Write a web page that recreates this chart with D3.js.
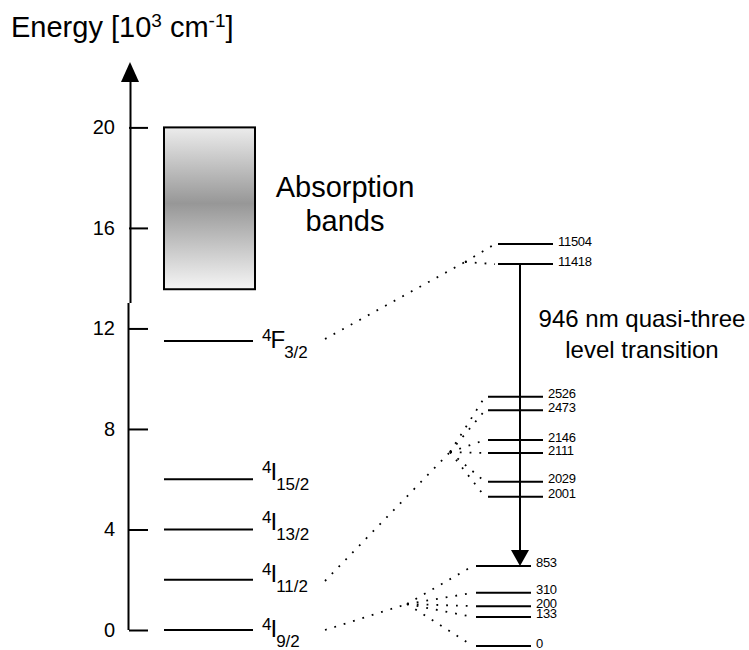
<!DOCTYPE html>
<html lang="en">
<head>
<meta charset="utf-8">
<script src="https://cdn.jsdelivr.net/npm/d3@7"></script>
<style>
body { margin: 0; background: #fff; }
svg { display: block; }
text { font-family: Arial, "Liberation Sans", sans-serif; fill: #000; }
</style>
</head>
<body>
<svg id="chart" width="749" height="650"></svg>
<script>
// energy axis, in 10^3 cm^-1
const axisTicks = [0, 4, 8, 12, 16, 20];

// manifolds on the left
const levelTerms = ["F", "I", "I", "I", "I"];
const levelSubs = ["3/2", "15/2", "13/2", "11/2", "9/2"];
const levelEnergies = [11.5, 6.0, 4.0, 2.0, 0];

// pump band
const bandRange = [13.56, 20];

// Stark sublevels (cm^-1) and the axis height they are drawn at (schematic)
const upperSplit = ["11504", "11418"];
const upperDrawnAt = [15.36, 14.56];
const midSplit = ["2526", "2473", "2146", "2111", "2029", "2001"];
const midDrawnAt = [9.28, 8.74, 7.56, 7.04, 5.90, 5.30];
const groundSplit = ["853", "310", "200", "133", "0"];
const groundDrawnAt = [2.55, 1.48, 0.95, 0.52, -0.64];

const svg = d3.select("#chart");
const y = d3.scaleLinear().domain([0, 20]).range([630, 127.4]);
const axisX = 129;

// gradient for the absorption box
const grad = svg.append("defs").append("linearGradient")
    .attr("id", "band").attr("x1", 0).attr("y1", 0).attr("x2", 0).attr("y2", 1);
grad.append("stop").attr("offset", "0%").attr("stop-color", "#ececec");
grad.append("stop").attr("offset", "47%").attr("stop-color", "#979797");
grad.append("stop").attr("offset", "100%").attr("stop-color", "#f5f5f5");

// title
svg.append("text")
    .attr("x", 11).attr("y", 37)
    .style("font-size", "29px")
    .call(t => {
        t.append("tspan").text("Energy [10");
        t.append("tspan").attr("dy", -10).style("font-size", "19px").text("3");
        t.append("tspan").attr("dy", 10).text(" cm");
        t.append("tspan").attr("dy", -10).style("font-size", "19px").text("-1");
        t.append("tspan").attr("dy", 10).text("]");
    });

// axis line, with the small break near 12
const breakY = 303;
svg.append("line").attr("x1", axisX + 1.5).attr("x2", axisX + 1.5)
    .attr("y1", 80).attr("y2", breakY).attr("stroke", "#000").attr("stroke-width", 2);
svg.append("line").attr("x1", axisX - 0.5).attr("x2", axisX - 0.5)
    .attr("y1", breakY).attr("y2", y(0)).attr("stroke", "#000").attr("stroke-width", 2);
svg.append("path")
    .attr("d", `M${axisX + 1},62 L${axisX - 8},82 L${axisX + 10},82 Z`)
    .attr("fill", "#000");

const axis = svg.append("g")
    .attr("transform", `translate(${axisX},0)`)
    .call(d3.axisLeft(y).tickValues(axisTicks).tickSize(-19).tickPadding(14));
axis.select(".domain").remove();
axis.selectAll(".tick line").attr("stroke", "#000").attr("stroke-width", 2);
axis.selectAll(".tick text")
    .style("font-size", "20px")
    .style("font-family", "Arial, 'Liberation Sans', sans-serif")
    .attr("fill", "#000");

// absorption bands
svg.append("rect")
    .attr("x", 164).attr("width", 91)
    .attr("y", y(bandRange[1])).attr("height", y(bandRange[0]) - y(bandRange[1]))
    .attr("fill", "url(#band)").attr("stroke", "#000").attr("stroke-width", 2);
svg.append("text").attr("x", 345).attr("y", 197).attr("text-anchor", "middle")
    .style("font-size", "29px").text("Absorption");
svg.append("text").attr("x", 345).attr("y", 231).attr("text-anchor", "middle")
    .style("font-size", "29px").text("bands");

// manifolds
const labelDy = [7, 1, 1, 2, 7];
levelEnergies.forEach((e, i) => {
    svg.append("line")
        .attr("x1", 164).attr("x2", 253)
        .attr("y1", y(e)).attr("y2", y(e))
        .attr("stroke", "#000").attr("stroke-width", 2);
    const t = svg.append("text")
        .attr("x", 262).attr("y", y(e) + labelDy[i])
        .style("font-size", "24px");
    t.append("tspan").attr("dy", -7).style("font-size", "17px").text("4");
    t.append("tspan").attr("dy", 7).attr("dx", -1).text(levelTerms[i]);
    t.append("tspan").attr("dy", 10).attr("dx", -1).style("font-size", "17px").text(levelSubs[i]);
});

// Stark groups
const groups = [
    { labels: upperSplit, at: upperDrawnAt, x0: 498, from: [325, 339], hub: [465, 262] },
    { labels: midSplit, at: midDrawnAt, x0: 488, from: [325, 581], hub: [450, 452] },
    { labels: groundSplit, at: groundDrawnAt, x0: 476, from: [325, 630], hub: [407, 604] }
];
const dotted = g => g.attr("stroke", "#000").attr("stroke-width", 1.8)
    .attr("stroke-dasharray", "1.8 8").attr("fill", "none");

groups.forEach(g => {
    svg.append("line")
        .attr("x1", g.from[0]).attr("y1", g.from[1])
        .attr("x2", g.hub[0]).attr("y2", g.hub[1])
        .call(dotted);
    g.at.forEach((v, j) => {
        svg.append("line")
            .attr("x1", g.hub[0]).attr("y1", g.hub[1])
            .attr("x2", g.x0 - 3).attr("y2", y(v))
            .call(dotted);
        svg.append("line")
            .attr("x1", g.x0).attr("x2", g.x0 + 55)
            .attr("y1", y(v)).attr("y2", y(v))
            .attr("stroke", "#000").attr("stroke-width", 2);
        svg.append("text")
            .attr("x", g.x0 + 60).attr("y", y(v) - 3)
            .attr("dominant-baseline", "central")
            .style("font-size", "13px")
            .style("letter-spacing", "-0.3px")
            .text(g.labels[j]);
    });
});

// 946 nm transition
const arrowX = 520;
const yTop = y(upperDrawnAt[1]);
const yEnd = y(groundDrawnAt[0]);
svg.append("line").attr("x1", arrowX).attr("x2", arrowX)
    .attr("y1", yTop).attr("y2", yEnd - 14)
    .attr("stroke", "#000").attr("stroke-width", 2);
svg.append("path")
    .attr("d", `M${arrowX},${yEnd} L${arrowX - 9},${yEnd - 16} L${arrowX + 9},${yEnd - 16} Z`)
    .attr("fill", "#000");
svg.append("text").attr("x", 642).attr("y", 327).attr("text-anchor", "middle")
    .style("font-size", "24px").text("946 nm quasi-three");
svg.append("text").attr("x", 642).attr("y", 358).attr("text-anchor", "middle")
    .style("font-size", "24px").text("level transition");
</script>
</body>
</html>
